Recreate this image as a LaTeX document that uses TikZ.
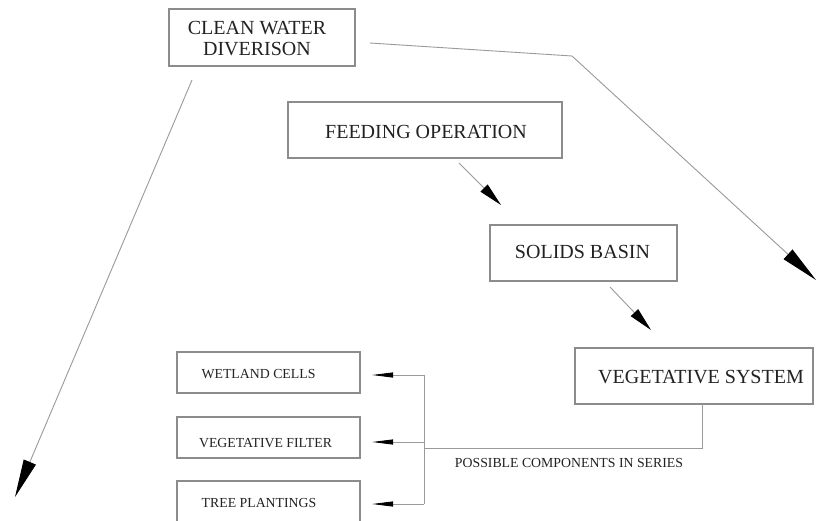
\documentclass[tikz,border=0pt]{standalone}
\usepackage{fontspec}
\setmainfont{Liberation Serif}
\usetikzlibrary{arrows.meta}
\definecolor{boxgray}{HTML}{8C8C8C}
\definecolor{linegray}{HTML}{9A9A9A}
\definecolor{inkc}{HTML}{222222}
\begin{document}
\begin{tikzpicture}[x=1pt,y=-1pt,
  box/.style={draw=boxgray,line width=1.1pt,rectangle,inner sep=0pt},
  bigtxt/.style={font=\fontsize{20}{21}\selectfont,text=inkc,inner sep=0pt,align=center},
  smalltxt/.style={font=\fontsize{13.8}{15}\selectfont,text=inkc,inner sep=0pt},
  conn/.style={draw=linegray,line width=0.9pt,line join=miter},
  bigarrow/.style={conn,-{Triangle[length=38pt,width=13pt,color=black]}},
  medarrow/.style={conn,-{Triangle[length=24pt,width=10pt,color=black]}},
  smallarrow/.style={conn,-{Triangle[length=21pt,width=5pt,color=black]}},
]
\useasboundingbox (0,0) rectangle (816,520);
\clip (0,0) rectangle (816,520);
\fill[white] (0,0) rectangle (816,520);

% boxes
\node[box,minimum width=186pt,minimum height=57pt] (cwd) at (262,37.5) {};
\node[bigtxt] (cwdt) at (257,39) {CLEAN WATER\\DIVERISON};

\node[box,minimum width=274pt,minimum height=56pt] (feed) at (425,130) {};
\node[bigtxt,anchor=base] (feedt) at (426,138) {FEEDING OPERATION};

\node[box,minimum width=187pt,minimum height=56pt] (sol) at (583.5,253) {};
\node[bigtxt,anchor=base] (solt) at (582.5,258) {SOLIDS BASIN};

\node[box,minimum width=238pt,minimum height=56pt] (veg) at (694,376) {};
\node[bigtxt,anchor=base] (vegt) at (701,383) {VEGETATIVE SYSTEM};

\node[box,minimum width=183pt,minimum height=41pt] (wet) at (268.5,372.5) {};
\node[smalltxt,anchor=base] (wett) at (258.5,378) {WETLAND CELLS};

\node[box,minimum width=183pt,minimum height=41pt] (vf) at (268.5,437.5) {};
\node[smalltxt,anchor=base] (vft) at (265.5,447) {VEGETATIVE FILTER};

\node[box,minimum width=183pt,minimum height=50pt] (tree) at (268.5,506) {};
\node[smalltxt,anchor=base] (treet) at (259,507) {TREE PLANTINGS};

\node[smalltxt,anchor=base] (poss) at (569,467) {POSSIBLE COMPONENTS IN SERIES};

% connector points
\coordinate (cwdR) at (370,43);
\coordinate (kink) at (572,56);
\coordinate (tipR) at (816,280);
\coordinate (cwdL) at (192,80);
\coordinate (tipL) at (15,497);
\coordinate (feedOut) at (459,163);
\coordinate (solIn) at (501,205);
\coordinate (solOut) at (610,287);
\coordinate (vegIn) at (651,330);
\coordinate (vegOut) at (702,404);
\coordinate (vegCorner) at (702,448);
\coordinate (junc) at (424,448);
\coordinate (busTop) at (424,375);
\coordinate (busMid) at (424,442);
\coordinate (busBot) at (424,504);
\coordinate (wetIn) at (372,375);
\coordinate (vfIn) at (372,442);
\coordinate (treeIn) at (372,504);

% connectors
\draw[bigarrow] (cwdR) -- (kink) -- (tipR);
\draw[bigarrow] (cwdL) -- (tipL);
\draw[medarrow] (feedOut) -- (solIn);
\draw[medarrow] (solOut) -- (vegIn);
\draw[conn] (vegOut) -- (vegCorner) -- (junc);
\draw[conn] (busTop) -- (busBot);
\draw[smallarrow] (busTop) -- (wetIn);
\draw[smallarrow] (busMid) -- (vfIn);
\draw[smallarrow] (busBot) -- (treeIn);
\end{tikzpicture}
\end{document}
